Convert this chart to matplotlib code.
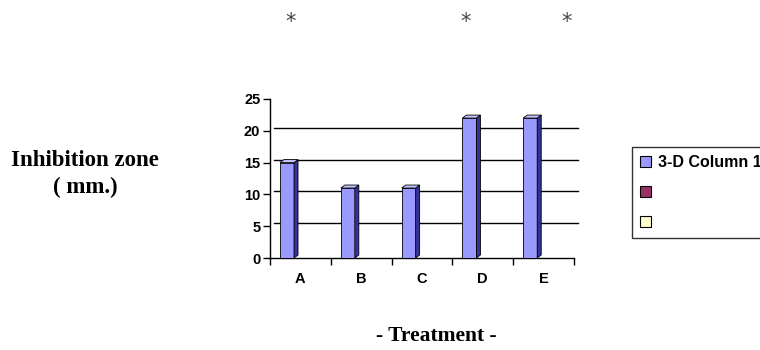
import matplotlib
matplotlib.use("Agg")
import matplotlib.pyplot as plt
from matplotlib.patches import Polygon, Patch
from matplotlib.transforms import ScaledTranslation

# inhibition zone per treatment (mm)
treatments = ["A", "B", "C", "D", "E"]
zone_mm = [15, 11, 11, 22, 22]
series_names = ["3-D Column 1", "", ""]
series_colors = ["#9999ff", "#993366", "#ffffcc"]
yticks = [0, 5, 10, 15, 20, 25]
star_x = [291, 466, 567]   # pixel columns of the significance marks

W, H = 760, 350
fig = plt.figure(figsize=(W / 100, H / 100), dpi=100)
ax = fig.add_axes([270 / W, 1 - 258 / H, (574 - 270) / W, (258 - 99) / H])

ax.set_xlim(-0.5, len(treatments) - 0.5)
ax.set_ylim(0, 25)

# 3-D depth in data units (about 4 px right, 3 px up)
px_x = (574 - 270) / len(treatments)
px_y = (258 - 99) / 25
dx, dy = 4 / px_x, 3 / px_y

# back-wall gridlines, shifted by the depth
shift = ScaledTranslation(4 / 100, 3 / 100, fig.dpi_scale_trans)
for v in yticks[1:-1]:
    ax.plot([0, 1], [v, v], color="black", lw=1.0,
            transform=ax.get_yaxis_transform() + shift, clip_on=False, zorder=1)

offset, width = -0.22, 0.23
bars = ax.bar([i + offset for i in range(len(treatments))], zone_mm, width=width,
              color=series_colors[0], edgecolor="black", linewidth=0.6, zorder=3)
for b in bars:
    x0, x1, h = b.get_x(), b.get_x() + b.get_width(), b.get_height()
    side = Polygon([(x1, 0), (x1 + dx, dy), (x1 + dx, h + dy), (x1, h)],
                   closed=True, facecolor="#333399", edgecolor="black", lw=0.6, zorder=3)
    top = Polygon([(x0, h), (x0 + dx, h + dy), (x1 + dx, h + dy), (x1, h)],
                  closed=True, facecolor="#c4c4ff", edgecolor="black", lw=0.6, zorder=3)
    ax.add_patch(side)
    ax.add_patch(top)

for s in ["top", "right"]:
    ax.spines[s].set_visible(False)
ax.spines["left"].set_linewidth(1.0)
ax.spines["bottom"].set_linewidth(1.0)

ax.set_yticks(yticks)
ax.set_yticklabels([str(v) for v in yticks], fontsize=10.5, fontweight="bold",
                   family="Liberation Sans")
ax.tick_params(axis="y", length=5, width=1, pad=2)

# ticks between categories, labels at the centres
ax.set_xticks([i - 0.5 for i in range(len(treatments) + 1)])
ax.set_xticklabels([])
ax.set_xticks(range(len(treatments)), minor=True)
ax.set_xticklabels(treatments, minor=True, fontsize=10.5, fontweight="bold",
                   family="Liberation Sans")
ax.tick_params(axis="x", which="major", length=5, width=1)
ax.tick_params(axis="x", which="minor", length=0, pad=10)

fig.text(85 / W, 1 - 174 / H, "Inhibition zone\n( mm.)", ha="center", va="center",
         fontsize=16.5, fontweight="bold", family="Liberation Serif", linespacing=1.35)
fig.text(436 / W, 1 - 336 / H, "- Treatment -", ha="center", va="center",
         fontsize=15.5, fontweight="bold", family="Liberation Serif")

for sx in star_x:
    fig.text(sx / W, 1 - 22 / H, "*", ha="center", va="center",
             fontsize=15, color="#444444", family="DejaVu Sans")

handles = [Patch(facecolor=c, edgecolor="black", lw=0.8) for c in series_colors]
leg = fig.legend(handles, series_names, loc="upper left",
                 bbox_to_anchor=(632 / W, 1 - 147 / H), frameon=True, fancybox=False,
                 prop={"family": "Liberation Sans", "weight": "bold", "size": 11.5},
                 handlelength=0.7, handleheight=0.7, handletextpad=0.4,
                 labelspacing=0.95, borderpad=0.5, borderaxespad=0)
leg.get_frame().set_edgecolor("black")
leg.get_frame().set_linewidth(1.0)

fig.savefig("out.png", dpi=100)
